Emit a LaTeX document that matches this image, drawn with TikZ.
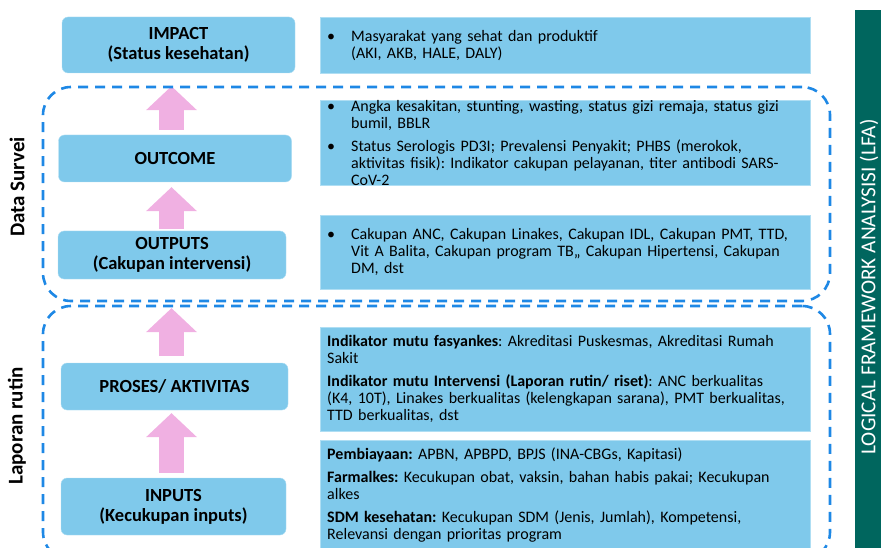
\documentclass[tikz,border=0pt]{standalone}
\usepackage{fontspec}
\setmainfont{Carlito}
\frenchspacing
\usetikzlibrary{arrows.meta, positioning}
\definecolor{boxblue}{RGB}{127,201,235}
\definecolor{boxline}{RGB}{175,222,243}
\definecolor{dashblue}{RGB}{30,136,229}
\definecolor{flowpink}{RGB}{240,176,226}
\definecolor{lfagreen}{RGB}{0,102,94}
\newcommand{\bul}{\makebox[24pt][l]{\textbullet}}
\newcommand{\ind}{\hspace*{24pt}}
\tikzset{
  lbox/.style={rectangle, rounded corners=6pt, draw=boxline, fill=boxblue, align=center,
    inner sep=0pt, font=\bfseries\fontsize{18.5}{20}\selectfont},
  rbox/.style={rectangle, draw=boxline, fill=boxblue, anchor=north west, align=left,
    text width=476pt, inner xsep=7pt, inner ysep=0pt, font=\fontsize{16}{17}\selectfont},
  dashbox/.style={rectangle, draw=dashblue, line width=2.6pt, dash pattern=on 10pt off 7pt,
    rounded corners=28pt, inner sep=0pt},
  flow/.style={draw=flowpink, line width=25pt,
    -{Triangle[width=51pt, length=24pt, line width=0pt]}},
  side/.style={rotate=90, font=\bfseries\fontsize{21}{23}\selectfont}
}

\begin{document}
\begin{tikzpicture}[x=1pt, y=-1pt]
\useasboundingbox (0,0) rectangle (881,548);

% ---- kolom kiri ----
\node[lbox, minimum width=233pt, minimum height=56pt] (impact) at (178.5,45) {IMPACT\\(Status kesehatan)};
\node[lbox, minimum width=233pt, minimum height=47pt] (outcome) at (175,158.5) {OUTCOME};
\node[lbox, minimum width=228pt, minimum height=48pt] (outputs) at (172,255) {OUTPUTS\\(Cakupan intervensi)};
\node[lbox, minimum width=227pt, minimum height=47pt] (proses) at (174.5,386.5) {PROSES/ AKTIVITAS};
\node[lbox, minimum width=225pt, minimum height=57pt] (inputs) at (173.5,506.5) {INPUTS\\(Kecukupan inputs)};

% ---- kolom kanan ----
\node[rbox, minimum width=490pt, minimum height=56pt] (rimpact) at (320,17) {%
\bul Masyarakat yang sehat dan produktif\\
\ind (AKI, AKB, HALE, DALY)};
\node[rbox, minimum width=490pt, minimum height=83pt] (routcome) at (320,100) {%
\bul Angka kesakitan, stunting, wasting, status gizi remaja, status gizi\\
\ind bumil, BBLR\\[6pt]
\bul Status Serologis PD3I; Prevalensi Penyakit; PHBS (merokok,\\
\ind aktivitas fisik): Indikator cakupan pelayanan, titer antibodi SARS-\\
\ind CoV-2};
\node[rbox, minimum width=490pt, minimum height=74pt] (routputs) at (320,215) {%
\bul Cakupan ANC, Cakupan Linakes, Cakupan IDL, Cakupan PMT, TTD,\\
\ind Vit A Balita, Cakupan program TB,, Cakupan Hipertensi, Cakupan\\
\ind DM, dst};
\node[rbox, minimum width=490pt, minimum height=104pt] (rproses) at (320,326.5) {%
\textbf{Indikator mutu fasyankes}: Akreditasi Puskesmas, Akreditasi Rumah\\
Sakit\\[6pt]
\textbf{Indikator mutu Intervensi (Laporan rutin/ riset)}: ANC berkualitas\\
(K4, 10T), Linakes berkualitas (kelengkapan sarana), PMT berkualitas,\\
TTD berkualitas, dst};
\node[rbox, minimum width=490pt, minimum height=110pt] (rinputs) at (320,440) {%
\textbf{Pembiayaan:} APBN, APBPD, BPJS (INA-CBGs, Kapitasi)\\[6pt]
\textbf{Farmalkes:} Kecukupan obat, vaksin, bahan habis pakai; Kecukupan\\
alkes\\[6pt]
\textbf{SDM kesehatan:} Kecukupan SDM (Jenis, Jumlah), Kompetensi,\\
Relevansi dengan prioritas program};

% ---- panah ----
\coordinate (ax) at (171.5,0);
\draw[flow, shorten <=5pt, shorten >=13pt] (outcome.north -| ax) -- (impact.south -| ax);
\draw[flow, shorten <=2pt, shorten >=5pt] (outputs.north -| ax) -- (outcome.south -| ax);
\draw[flow, shorten <=7pt, shorten >=29pt] (proses.north -| ax) -- (outputs.south -| ax);
\draw[flow, shorten <=5pt, shorten >=3pt] (inputs.north -| ax) -- (proses.south -| ax);

% ---- kelompok data ----
\node[dashbox, minimum width=787pt, minimum height=214pt] (survei) at (436.5,194) {};
\node[dashbox, minimum width=787pt, minimum height=254pt] (rutin) at (436.5,433) {};
\node[side] (surveilbl) at (17,187) {Data Survei};
\node[side] (rutinlbl) at (17,426) {Laporan rutin};

% ---- LFA ----
\node[fill=lfagreen, minimum width=26pt, minimum height=540pt, anchor=north west, inner sep=0pt] (lfa) at (855,10) {};
\node[rotate=90, text=white, font=\fontsize{21.3}{23}\selectfont] (lfatext) at (869,287) {LOGICAL FRAMEWORK ANALYSISI (LFA)};

\end{tikzpicture}
\end{document}
